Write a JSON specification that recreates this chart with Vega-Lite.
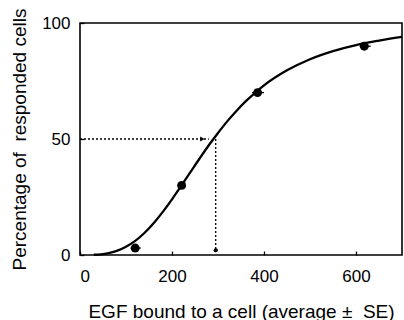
{
  "$schema": "https://vega.github.io/schema/vega-lite/v6.json",
  "autosize": {"type": "none"},
  "padding": {"left": 80, "top": 23, "right": 2, "bottom": 65},
  "width": 322,
  "height": 232,
  "background": "white",
  "config": {
    "font": "Liberation Sans",
    "view": {"stroke": "black", "strokeWidth": 1.6},
    "axis": {
      "domain": false, "grid": false, "tickColor": "black", "tickSize": -4, "tickWidth": 1.3,
      "labelColor": "black", "titleColor": "black", "labelFont": "Liberation Sans", "titleFont": "Liberation Sans",
      "labelFontSize": 17, "titleFontSize": 19, "titleFontWeight": "normal"
    }
  },
  "datasets": {
    "curve": [
      {"x": 30, "y": 0.1}, {"x": 40, "y": 0.2}, {"x": 60, "y": 0.75}, {"x": 80, "y": 1.8}, {"x": 100, "y": 3.6},
      {"x": 120, "y": 6.1}, {"x": 140, "y": 9.5}, {"x": 160, "y": 13.7}, {"x": 180, "y": 18.6}, {"x": 200, "y": 24.0},
      {"x": 220, "y": 29.8}, {"x": 240, "y": 35.7}, {"x": 260, "y": 41.6}, {"x": 280, "y": 47.3}, {"x": 300, "y": 52.6},
      {"x": 320, "y": 57.6}, {"x": 340, "y": 62.1}, {"x": 360, "y": 66.2}, {"x": 380, "y": 69.8}, {"x": 400, "y": 73.1},
      {"x": 450, "y": 79.6}, {"x": 500, "y": 84.4}, {"x": 550, "y": 87.9}, {"x": 600, "y": 90.5}, {"x": 650, "y": 92.4},
      {"x": 700, "y": 94.0}
    ],
    "points": [
      {"x": 120, "y": 3, "lo": 110, "hi": 132},
      {"x": 221, "y": 30, "lo": 212, "hi": 230},
      {"x": 386, "y": 70, "lo": 374, "hi": 400},
      {"x": 618, "y": 90, "lo": 608, "hi": 632}
    ],
    "half": [{"x0": 0, "x1": 280, "xv": 295, "y": 50, "yb": 2, "xa": 266}]
  },
  "layer": [
    {
      "data": {"name": "curve"},
      "mark": {"type": "line", "color": "black", "strokeWidth": 2.3, "interpolate": "monotone"},
      "encoding": {
        "x": {"field": "x", "type": "quantitative", "scale": {"domain": [0, 700], "nice": false}, "axis": {"values": [0, 200, 400, 600], "labelPadding": 17, "title": "EGF bound to a cell (average ±\u00a0 SE)", "titlePadding": 18}},
        "y": {"field": "y", "type": "quantitative", "scale": {"domain": [0, 100], "nice": false}, "axis": {"values": [0, 50, 100], "labelPadding": 14, "title": "Percentage of\u00a0 responded cells", "titlePadding": 12}}
      }
    },
    {
      "data": {"name": "half"},
      "mark": {"type": "rule", "color": "black", "strokeWidth": 1.3, "strokeDash": [2, 2]},
      "encoding": {"x": {"field": "x0", "type": "quantitative"}, "x2": {"field": "x1"}, "y": {"field": "y", "type": "quantitative"}}
    },
    {
      "data": {"name": "half"},
      "mark": {"type": "rule", "color": "black", "strokeWidth": 1.3, "strokeDash": [2, 2]},
      "encoding": {"x": {"field": "xv", "type": "quantitative"}, "y": {"field": "y", "type": "quantitative"}, "y2": {"field": "yb"}}
    },
    {
      "data": {"name": "half"},
      "mark": {"type": "point", "shape": "triangle-right", "filled": true, "color": "black", "size": 25, "opacity": 1},
      "encoding": {"x": {"field": "xa", "type": "quantitative"}, "y": {"field": "y", "type": "quantitative"}}
    },
    {
      "data": {"name": "half"},
      "mark": {"type": "point", "shape": "circle", "filled": true, "color": "black", "size": 18, "opacity": 1},
      "encoding": {"x": {"field": "xv", "type": "quantitative"}, "y": {"field": "yb", "type": "quantitative"}}
    },
    {
      "data": {"name": "points"},
      "mark": {"type": "rule", "color": "black", "strokeWidth": 1.3},
      "encoding": {"x": {"field": "lo", "type": "quantitative"}, "x2": {"field": "hi"}, "y": {"field": "y", "type": "quantitative"}}
    },
    {
      "data": {"name": "points"},
      "mark": {"type": "point", "shape": "circle", "filled": true, "color": "black", "size": 80, "opacity": 1},
      "encoding": {"x": {"field": "x", "type": "quantitative"}, "y": {"field": "y", "type": "quantitative"}}
    }
  ]
}
